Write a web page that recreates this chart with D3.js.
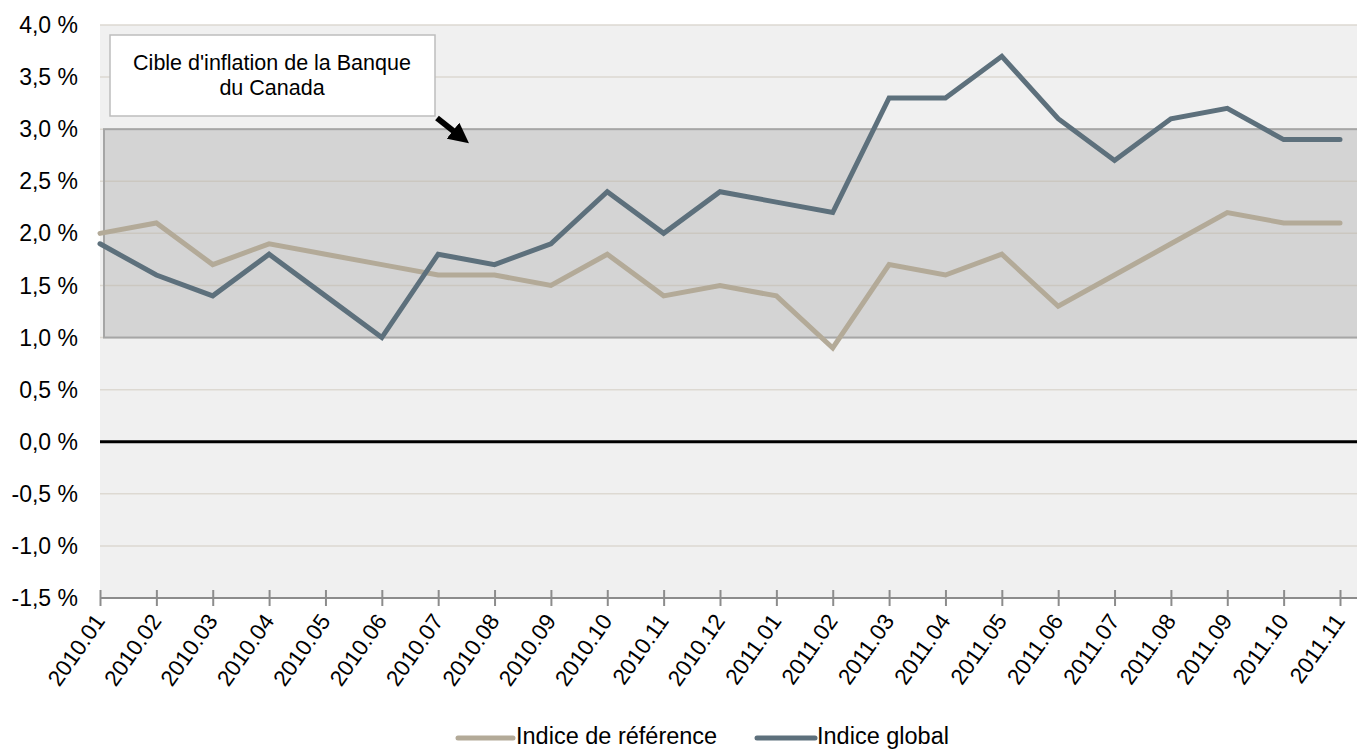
<!DOCTYPE html>
<html><head><meta charset="utf-8">
<script src="https://cdn.jsdelivr.net/npm/d3@7"></script>
<style>body{margin:0;background:#fff;}svg{display:block;font-family:"Liberation Sans",Arial,sans-serif;}</style>
</head><body><svg id="c" width="1357" height="751"></svg>
<script>
const categories = ["2010.01","2010.02","2010.03","2010.04","2010.05","2010.06","2010.07","2010.08","2010.09","2010.10","2010.11","2010.12","2011.01","2011.02","2011.03","2011.04","2011.05","2011.06","2011.07","2011.08","2011.09","2011.10","2011.11"];
const indiceReference = [2.0,2.1,1.7,1.9,1.8,1.7,1.6,1.6,1.5,1.8,1.4,1.5,1.4,0.9,1.7,1.6,1.8,1.3,1.6,1.9,2.2,2.1,2.1];
const indiceGlobal = [1.9,1.6,1.4,1.8,1.4,1.0,1.8,1.7,1.9,2.4,2.0,2.4,2.3,2.2,3.3,3.3,3.7,3.1,2.7,3.1,3.2,2.9,2.9];
const yTicks = [-1.5,-1.0,-0.5,0.0,0.5,1.0,1.5,2.0,2.5,3.0,3.5,4.0];
const targetBand = [1.0, 3.0];
const seriesNames = ["Indice de référence","Indice global"];
const seriesColors = ["#b3aa98","#5d707c"];
const annotationText = ["Cible d'inflation de la Banque","du Canada"];

const svg = d3.select("#c");
const L = 100, R = 1357, T = 25, B = 598;
const x = d3.scalePoint().domain(categories).range([L, 1340]);
const y = d3.scaleLinear().domain([-1.5, 4.0]).range([B, T]);
const fmt = v => d3.format(".1f")(v).replace(".", ",").replace("−","-") + " %";

svg.append("rect").attr("x", L).attr("y", T).attr("width", R - L).attr("height", B - T).attr("fill", "#f0f0f0");
// grid
svg.append("g").selectAll("line").data(yTicks.filter(v => v !== 0 && v !== -1.5)).join("line")
  .attr("x1", L).attr("x2", R).attr("y1", d => y(d)).attr("y2", d => y(d))
  .attr("stroke", "#ddd9d2").attr("stroke-width", 1.5);
// band
svg.append("rect").attr("x", L + 4).attr("y", y(targetBand[1])).attr("width", R - L - 2)
  .attr("height", y(targetBand[0]) - y(targetBand[1]))
  .attr("fill", "#d4d4d4").attr("stroke", "#a6a6a6").attr("stroke-width", 2);
svg.append("g").selectAll("line").data(yTicks.filter(v => v > targetBand[0] && v < targetBand[1])).join("line")
  .attr("x1", L + 5).attr("x2", R).attr("y1", d => y(d)).attr("y2", d => y(d))
  .attr("stroke", "#cbc7c0").attr("stroke-width", 1.5);
// zero line
svg.append("line").attr("x1", L).attr("x2", R).attr("y1", y(0)).attr("y2", y(0)).attr("stroke", "#000").attr("stroke-width", 3);

// y labels
svg.append("g").selectAll("text").data(yTicks).join("text")
  .attr("x", 78).attr("y", d => y(d)).attr("dy", "0.35em").attr("text-anchor", "end")
  .attr("font-size", 23).attr("fill", "#000").text(fmt);

// x axis
const xa = svg.append("g").attr("transform", `translate(0,${B})`)
  .call(d3.axisBottom(x).tickSize(8).tickSizeOuter(0).tickFormat(""));
xa.select(".domain").attr("stroke", "#8c8c8c").attr("stroke-width", 2).attr("d", `M${L},0H${R}`);
xa.selectAll(".tick line").attr("stroke", "#8c8c8c").attr("stroke-width", 2).attr("y1", -8).attr("y2", 8);
svg.append("g").selectAll("text").data(categories).join("text")
  .attr("transform", d => `translate(${x(d) + 6},${B + 23}) rotate(-55)`)
  .attr("text-anchor", "end").attr("font-size", 22.5).attr("fill", "#000").text(d => d);

// lines
const line = d3.line().x((d, i) => x(categories[i])).y(d => y(d));
[indiceReference, indiceGlobal].forEach((s, k) => {
  svg.append("path").datum(s).attr("d", line).attr("fill", "none")
    .attr("stroke", seriesColors[k]).attr("stroke-width", 5).attr("stroke-linejoin", "miter").attr("stroke-linecap", "round");
});

// annotation box
svg.append("rect").attr("x", 110).attr("y", 35).attr("width", 325).attr("height", 81)
  .attr("fill", "#fff").attr("stroke", "#bdbdbd").attr("stroke-width", 1.5);
svg.append("text").attr("x", 272).attr("text-anchor", "middle").attr("font-size", 21.5).attr("fill", "#000")
  .selectAll("tspan").data(annotationText).join("tspan").attr("x", 272).attr("y", (d, i) => 70 + i * 25).text(d => d);
// arrow
const defs = svg.append("defs");
defs.append("marker").attr("id", "ah").attr("viewBox", "0 0 10 10").attr("refX", 5).attr("refY", 5)
  .attr("markerWidth", 3.4).attr("markerHeight", 3.4).attr("orient", "auto")
  .append("path").attr("d", "M0,0L10,5L0,10z").attr("fill", "#000");
svg.append("line").attr("x1", 437).attr("y1", 118).attr("x2", 461).attr("y2", 137)
  .attr("stroke", "#000").attr("stroke-width", 6).attr("marker-end", "url(#ah)");

// legend
const lg = [{x1: 458, x2: 513, tx: 516}, {x1: 757, x2: 815, tx: 817}];
lg.forEach((p, k) => {
  svg.append("line").attr("x1", p.x1).attr("x2", p.x2).attr("y1", 738).attr("y2", 738)
    .attr("stroke", seriesColors[k]).attr("stroke-width", 5).attr("stroke-linecap", "round");
  svg.append("text").attr("x", p.tx).attr("y", 736).attr("dy", "0.35em").attr("font-size", 23.5).attr("fill", "#000").text(seriesNames[k]);
});
</script></body></html>
